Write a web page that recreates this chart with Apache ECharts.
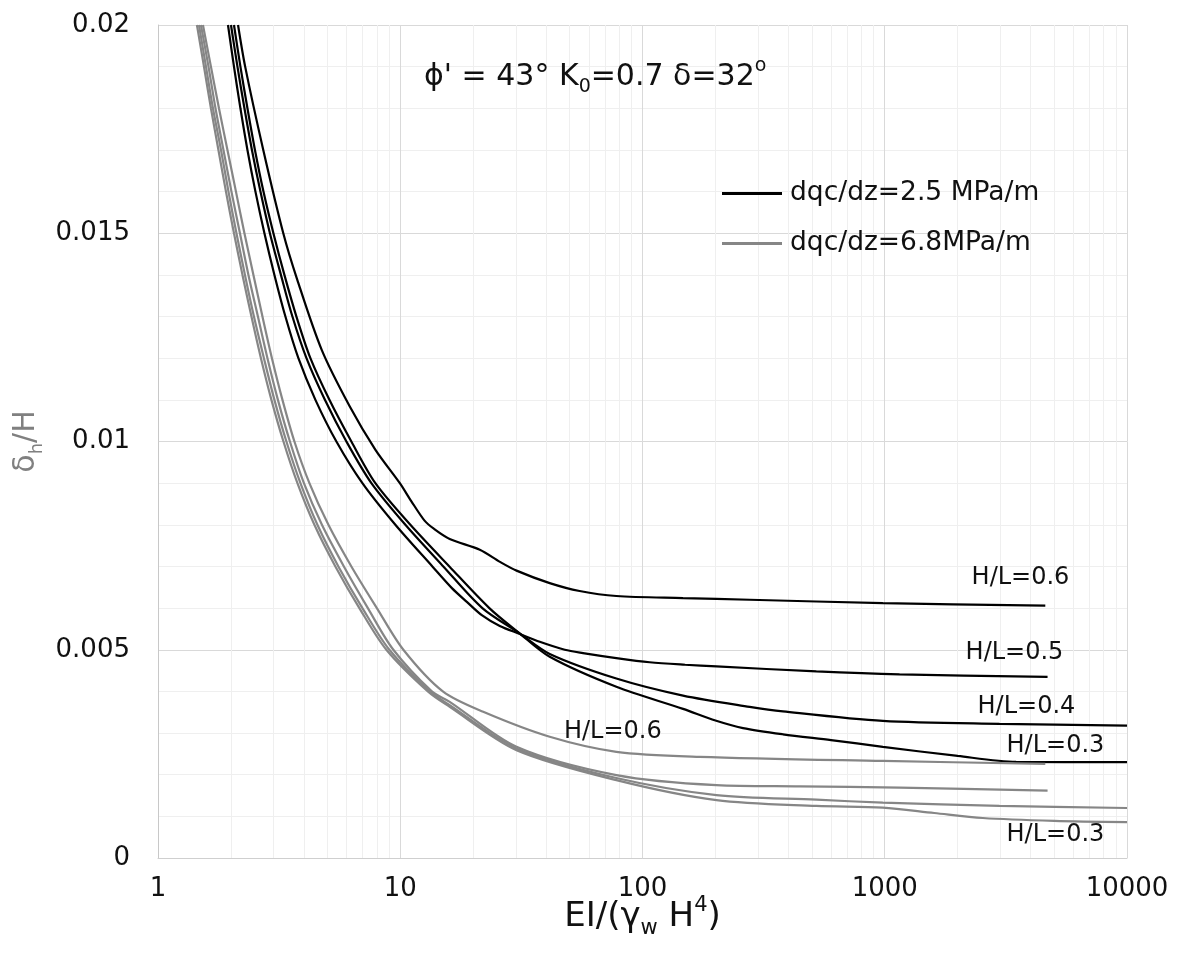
<!DOCTYPE html>
<html><head><meta charset="utf-8">
<script src="https://cdn.jsdelivr.net/npm/echarts@6/dist/echarts.min.js"></script>
<style>html,body{margin:0;padding:0;background:#fff}#c{width:1179px;height:963px}</style>
</head><body><div id="c"></div>
<script>
// ---- data (x = EI/(gamma_w H^4), y = delta_h/H) ----
const xTicks = [1, 10, 100, 1000, 10000];
const yTicks = [0, 0.005, 0.01, 0.015, 0.02];
const seriesNameA = 'dqc/dz=2.5 MPa/m';
const seriesNameB = 'dqc/dz=6.8MPa/m';

const black06 = [[2.14,0.0200],[2.29,0.0190],[2.72,0.0170],[3.29,0.0150],[3.75,0.0139],[4.74,0.0122],[6.19,0.01084],[7.9,0.0098],[9.96,0.0090],[11.1,0.00857],[12.6,0.0081],[13.8,0.0079],[16.0,0.00766],[21.3,0.0074],[25.8,0.00711],[30.2,0.0069],[41.4,0.0066],[55,0.00641],[78,0.00629],[147,0.00624],[277,0.0062],[982,0.00612],[4600,0.00606]];
const black05 = [[1.945,0.020],[2.059,0.019],[2.189,0.018],[2.340,0.017],[2.525,0.016],[2.750,0.015],[3.024,0.014],[3.357,0.013],[3.798,0.012],[4.465,0.011],[5.450,0.010],[6.979,0.009],[9.546,0.008],[13.57,0.007],[16.34,0.00648],[18.83,0.00615],[21.71,0.00583],[25.76,0.00557],[31.14,0.00538],[37.66,0.00519],[47.75,0.0050],[56.8,0.00492],[78,0.0048],[107,0.0047],[150,0.00464],[202,0.0046],[522,0.00448],[1151,0.00441],[4700,0.00435]];
const black04 = [[2.001,0.020],[2.128,0.019],[2.274,0.018],[2.442,0.017],[2.648,0.016],[2.897,0.015],[3.217,0.014],[3.588,0.013],[4.101,0.012],[4.886,0.011],[5.994,0.010],[7.600,0.009],[10.50,0.008],[15.06,0.007],[21.82,0.006],[31,0.0054],[41.4,0.0049],[78,0.00431],[147,0.0039],[277,0.00363],[380,0.00352],[982,0.00329],[2976,0.00322],[10000,0.00318]];
const black03 = [[2.059,0.020],[2.189,0.019],[2.340,0.018],[2.513,0.017],[2.725,0.016],[2.995,0.015],[3.325,0.014],[3.727,0.013],[4.257,0.012],[5.100,0.011],[6.284,0.010],[7.894,0.009],[11.01,0.008],[15.95,0.007],[23.32,0.006],[31,0.0054],[41.4,0.00483],[78,0.00411],[147,0.00358],[200,0.0033],[260,0.00312],[380,0.00297],[600,0.00283],[982,0.00267],[2000,0.00245],[3486,0.00231],[10000,0.0023]];

const gray06 = [[1.533,0.020],[1.654,0.019],[1.785,0.018],[1.935,0.017],[2.098,0.016],[2.274,0.015],[2.477,0.014],[2.699,0.013],[2.953,0.012],[3.264,0.011],[3.657,0.010],[4.217,0.009],[5.052,0.008],[6.284,0.007],[8.007,0.006],[10.30,0.005],[14.99,0.004],[22,0.00351],[41.4,0.00291],[78,0.00255],[172,0.00243],[982,0.00233],[4600,0.00226]];
const gray05 = [[1.504,0.020],[1.616,0.019],[1.727,0.018],[1.863,0.017],[2.010,0.016],[2.179,0.015],[2.362,0.014],[2.585,0.013],[2.830,0.012],[3.126,0.011],[3.504,0.010],[4.003,0.009],[4.750,0.008],[5.852,0.007],[7.351,0.006],[9.365,0.005],[13.50,0.004],[16.0,0.00375],[30.2,0.00267],[78,0.00199],[202,0.00175],[445,0.00172],[1151,0.00169],[4700,0.00162]];
const gray04 = [[1.476,0.020],[1.578,0.019],[1.686,0.018],[1.820,0.017],[1.954,0.016],[2.108,0.015],[2.285,0.014],[2.489,0.013],[2.737,0.012],[3.024,0.011],[3.389,0.010],[3.872,0.009],[4.550,0.008],[5.554,0.007],[6.979,0.006],[9.016,0.005],[13.25,0.004],[16.0,0.00367],[30.2,0.00263],[78,0.00192],[202,0.00151],[522,0.0014],[982,0.00133],[2976,0.00125],[10000,0.0012]];
const gray03 = [[1.448,0.020],[1.548,0.019],[1.654,0.018],[1.776,0.017],[1.908,0.016],[2.059,0.015],[2.232,0.014],[2.431,0.013],[2.660,0.012],[2.939,0.011],[3.295,0.010],[3.763,0.009],[4.422,0.008],[5.398,0.007],[6.781,0.006],[8.763,0.005],[13.00,0.004],[16.0,0.00363],[30.2,0.00259],[78,0.00187],[202,0.00139],[522,0.00125],[982,0.00121],[1600,0.00108],[2540,0.00096],[5000,0.00089],[10000,0.00086]];

const curveLabels = [
  {name:'H/L=0.6', value:[3633,0.00672]},
  {name:'H/L=0.5', value:[3432,0.00492]},
  {name:'H/L=0.4', value:[3846,0.00362]},
  {name:'H/L=0.3', value:[5065,0.00269]},
  {name:'H/L=0.6', value:[75.4,0.00303]},
  {name:'H/L=0.3', value:[5065,0.00055]}
];

// ---- chart ----
const FONT = 'DejaVu Sans';
const minorX = [];
for (let k = 0; k < xTicks.length - 1; k++) {
  for (let d = 2; d <= 9; d++) minorX.push({xAxis: d * xTicks[k]});
}
function curve(name, data, color) {
  return {
    type: 'line', name: name, data: data, symbol: 'none', showSymbol: false,
    smooth: 0.3, clip: true,
    lineStyle: {color: color, width: 2.2}, itemStyle: {color: color},
    emphasis: {disabled: true}, z: 3
  };
}
const BLACK = '#000000', GRAY = '#868686';
const series = [
  curve(seriesNameA, black06, BLACK),
  curve(seriesNameA, black05, BLACK),
  curve(seriesNameA, black04, BLACK),
  curve(seriesNameA, black03, BLACK),
  curve(seriesNameB, gray06, GRAY),
  curve(seriesNameB, gray05, GRAY),
  curve(seriesNameB, gray04, GRAY),
  curve(seriesNameB, gray03, GRAY)
];
series[0].markLine = {
  silent: true, symbol: ['none', 'none'], label: {show: false}, z: 1, animation: false,
  lineStyle: {color: '#efefef', type: 'solid', width: 1},
  emphasis: {disabled: true},
  data: minorX
};
series.push({
  type: 'scatter', name: 'labels', data: curveLabels, symbolSize: 2,
  itemStyle: {color: 'rgba(0,0,0,0)'}, z: 4, silent: true,
  label: {show: true, position: 'inside', formatter: '{b}', fontFamily: FONT, fontSize: 24,
    color: '#111111', opacity: 1, textBorderWidth: 0}
});

const chart = echarts.init(document.getElementById('c'), null, {renderer: 'canvas'});
chart.setOption({
  animation: false,
  backgroundColor: '#ffffff',
  title: {
    text: "{a|ϕ' = 43° K}{sub|0}{a|=0.7 δ=32}{sup|o}",
    left: 424, top: 57, padding: 0,
    textStyle: {
      fontWeight: 'normal',
      rich: {
        a: {fontFamily: FONT, fontSize: 30, fontWeight: 'normal', color: '#111111', lineHeight: 40},
        sub: {fontFamily: FONT, fontSize: 19, fontWeight: 'normal', color: '#111111', verticalAlign: 'bottom', lineHeight: 19},
        sup: {fontFamily: FONT, fontSize: 19, fontWeight: 'normal', color: '#111111', verticalAlign: 'top', lineHeight: 19}
      }
    }
  },
  legend: {
    data: [seriesNameA, seriesNameB], orient: 'vertical', left: 722, top: 180, padding: 0,
    itemWidth: 60, itemHeight: 3, itemGap: 23, icon: 'rect', selectedMode: false,
    textStyle: {fontFamily: FONT, fontSize: 26.5, color: '#111111', padding: [0, 0, 0, 3]}
  },
  grid: {left: 158, right: 52, top: 25, bottom: 105, containLabel: false},
  xAxis: {
    type: 'log', logBase: 10, min: xTicks[0], max: xTicks[xTicks.length - 1],
    name: '{a|EI/(γ}{sub|w}{a| H}{sup|4}{a|)}', nameLocation: 'middle', nameGap: 37,
    nameMoveOverlap: false,
    nameTextStyle: {
      rich: {
        a: {fontFamily: FONT, fontSize: 34, color: '#111111', lineHeight: 44},
        sub: {fontFamily: FONT, fontSize: 21, color: '#111111', verticalAlign: 'bottom', lineHeight: 18},
        sup: {fontFamily: FONT, fontSize: 21, color: '#111111', verticalAlign: 'top', lineHeight: 20}
      }
    },
    axisLine: {show: true, lineStyle: {color: '#cfcfcf', width: 1}},
    axisTick: {show: false},
    axisLabel: {fontFamily: FONT, fontSize: 26, color: '#111111', margin: 18,
      formatter: v => String(Math.round(v))},
    splitLine: {show: true, lineStyle: {color: '#d9d9d9', width: 1}}
  },
  yAxis: {
    type: 'value', min: yTicks[0], max: yTicks[yTicks.length - 1], interval: yTicks[1] - yTicks[0],
    name: '{a|δ}{sub|h}{a|/H}', nameLocation: 'middle', nameGap: 112, nameRotate: 90,
    nameMoveOverlap: false,
    nameTextStyle: {
      rich: {
        a: {fontFamily: FONT, fontSize: 30, color: '#808080', lineHeight: 40},
        sub: {fontFamily: FONT, fontSize: 18, color: '#808080', verticalAlign: 'bottom', lineHeight: 16}
      }
    },
    axisLine: {show: true, lineStyle: {color: '#c8c8c8', width: 1}},
    axisTick: {show: false},
    axisLabel: {fontFamily: FONT, fontSize: 26, color: '#111111', margin: 28,
      formatter: v => String(parseFloat(v.toFixed(4)))},
    splitLine: {show: true, lineStyle: {color: '#d9d9d9', width: 1}},
    minorTick: {show: false, splitNumber: 5},
    minorSplitLine: {show: true, lineStyle: {color: '#efefef', width: 1}}
  },
  series: series
});
</script>
</body></html>
